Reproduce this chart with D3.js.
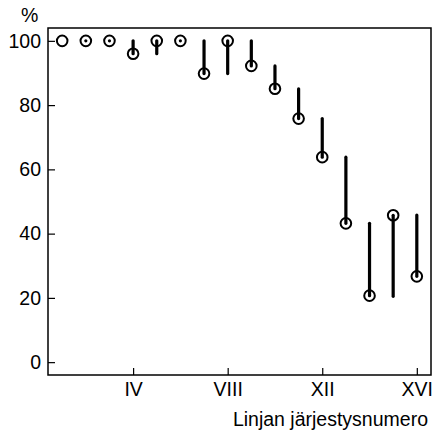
<!DOCTYPE html>
<html lang="fi">
<head>
    <meta charset="UTF-8">
    <title>Linjat</title>
    <script src="https://d3js.org/d3.v7.min.js"></script>
    <style>
        body {
            margin: 0;
            background: #fff;
        }
        svg text {
            font-family: "Liberation Sans", Arial, sans-serif;
            fill: #000;
        }
    </style>
</head>
<body>
    <svg id="chart" width="433" height="433"></svg>

    <script>
        // Line numbers (I..XVI), percent value of each line,
        // and the start of the vertical segment (null = no segment)
        const lineNumbers = [1, 2, 3, 4, 5, 6, 7, 8, 9, 10, 11, 12, 13, 14, 15, 16];
        const percent = [100, 100, 100, 96, 100, 100, 89.8, 100, 92.2, 85.1, 75.8, 63.8, 43.2, 20.7, 45.7, 26.7];
        const segmentFrom = [null, 100, 100, 100, 96, 100, 100, 89.8, 100, 92.2, 85.1, 75.8, 63.8, 43.2, 20.5, 45.8];

        const xTicks = [4, 8, 12, 16];
        const xTickLabels = ["IV", "VIII", "XII", "XVI"];
        const yTicks = [0, 20, 40, 60, 80, 100];

        const fontSize = 19.5;

        const margin = { top: 28, right: 2, bottom: 58, left: 48 },
              width = 433 - margin.left - margin.right,
              height = 433 - margin.top - margin.bottom;

        const svg = d3.select("#chart")
                      .append("g")
                      .attr("transform", `translate(${margin.left},${margin.top})`);

        // R-style 4% padding on both axes
        const x = d3.scaleLinear().domain([0.4, 16.6]).range([0, width]);
        const y = d3.scaleLinear().domain([-4, 104]).range([height, 0]);

        // Axes with inward ticks
        const xAxis = svg.append("g")
           .attr("transform", `translate(0,${height})`)
           .call(d3.axisBottom(x).tickValues(xTicks)
                   .tickFormat((d, i) => xTickLabels[i])
                   .tickSize(-7).tickPadding(7));

        const yAxis = svg.append("g")
           .call(d3.axisLeft(y).tickValues(yTicks).tickSize(-7).tickPadding(7));

        [xAxis, yAxis].forEach(a => {
            a.select(".domain").remove();
            a.selectAll("line").attr("stroke", "#000").attr("stroke-width", 1.2);
            a.selectAll("text").attr("font-size", fontSize).style("font-family", "Liberation Sans, Arial, sans-serif");
        });

        // Box
        svg.append("rect")
           .attr("width", width)
           .attr("height", height)
           .attr("fill", "none")
           .attr("stroke", "#000")
           .attr("stroke-width", 1.5);

        const data = lineNumbers.map((n, i) => ({ n: n, v: percent[i], from: segmentFrom[i] }));

        // Circles
        svg.selectAll(".pt")
           .data(data)
           .enter()
           .append("circle")
           .attr("class", "pt")
           .attr("cx", d => x(d.n))
           .attr("cy", d => y(d.v))
           .attr("r", 5.3)
           .attr("fill", "none")
           .attr("stroke", "#000")
           .attr("stroke-width", 2);

        // Vertical segments
        svg.selectAll(".seg")
           .data(data.filter(d => d.from !== null))
           .enter()
           .append("line")
           .attr("class", "seg")
           .attr("x1", d => x(d.n))
           .attr("x2", d => x(d.n))
           .attr("y1", d => y(d.from))
           .attr("y2", d => y(d.v))
           .attr("stroke", "#000")
           .attr("stroke-width", 3.2)
           .attr("stroke-linecap", "round");

        // Axis titles
        svg.append("text")
           .attr("x", -27)
           .attr("y", -6)
           .attr("font-size", fontSize)
           .attr("text-anchor", "start")
           .text("%");

        svg.append("text")
           .attr("x", width - 3)
           .attr("y", height + 51)
           .attr("font-size", fontSize)
           .attr("text-anchor", "end")
           .text("Linjan järjestysnumero");
    </script>
</body>
</html>
